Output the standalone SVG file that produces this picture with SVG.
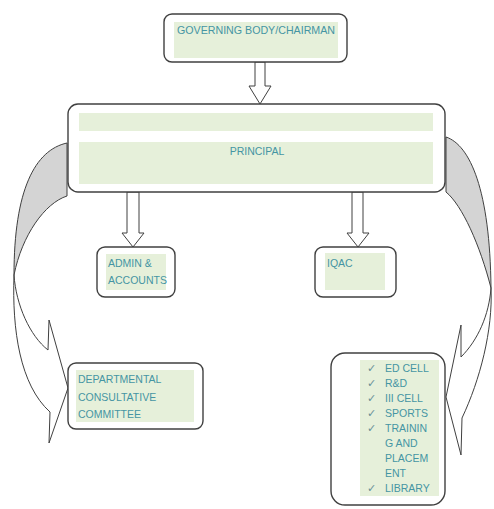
<svg xmlns="http://www.w3.org/2000/svg" width="494" height="509" viewBox="0 0 494 509">
<style>
.box{fill:#ffffff;stroke:#404040;stroke-width:1.4}
.fill{fill:#e6f0da}
.t{font-family:"Liberation Sans",Arial,sans-serif;font-size:10.5px;fill:#4595a3}
.ck{font-family:"DejaVu Sans",sans-serif;font-size:11px;fill:#6a9099}
.blk{fill:#ffffff;stroke:#404040;stroke-width:1}
.back{fill:#d4d4d4;stroke:#404040;stroke-width:1}
.front{fill:#ffffff;stroke:#404040;stroke-width:1}
</style>
<rect width="494" height="509" fill="#ffffff"/>
<g id="connectors">
  <polygon class="blk" points="255,62 265,62 265,86 271,86 260,104 249,86 255,86"/>
  <polygon class="blk" points="127,192 139,192 139,233 144,233 133,247 122,233 127,233"/>
  <polygon class="blk" points="352,192 363,192 363,233 369,233 358,247 347,233 352,233"/>
  <path class="back" d="M67,143 C35,150 14,190 14,275 C22,235 45,203 67,196 Z"/>
  <path class="front" d="M14,275 C12,330 20,385 50,412 L49,443 L68,388 L49,320 L48,350 C30,336 16,305 14,275 Z"/>
  <path class="back" d="M446,137 C470,145 490,190 491,288 C480,245 462,205 446,192 Z"/>
  <path class="front" d="M491,288 C493,330 480,380 462,418 L461,455 L446,397 L461,325 L461,357 C478,340 489,315 491,288 Z"/>
</g>
<g id="governing">
  <rect class="box" x="164" y="14" width="183" height="48" rx="8"/>
  <rect class="fill" x="174" y="22" width="164" height="36"/>
  <text class="t" x="177" y="34" textLength="158" lengthAdjust="spacingAndGlyphs">GOVERNING BODY/CHAIRMAN</text>
</g>
<g id="principal">
  <rect class="box" x="68" y="104" width="377" height="88" rx="10"/>
  <rect class="fill" x="79" y="113" width="354" height="18"/>
  <rect class="fill" x="79" y="142" width="354" height="42"/>
  <text class="t" x="257" y="155" text-anchor="middle">PRINCIPAL</text>
</g>
<g id="admin">
  <rect class="box" x="97" y="247" width="78" height="50" rx="8"/>
  <rect class="fill" x="106" y="254" width="60" height="36"/>
  <text class="t" x="108" y="267">ADMIN &amp;</text>
  <text class="t" x="108" y="284">ACCOUNTS</text>
</g>
<g id="iqac">
  <rect class="box" x="315" y="247" width="81" height="50" rx="8"/>
  <rect class="fill" x="325" y="253" width="60" height="37"/>
  <text class="t" x="327" y="267">IQAC</text>
</g>
<g id="dcc">
  <rect class="box" x="68" y="363" width="135" height="66" rx="8"/>
  <rect class="fill" x="76" y="370" width="118" height="52"/>
  <text class="t" x="78" y="383">DEPARTMENTAL</text>
  <text class="t" x="78" y="401">CONSULTATIVE</text>
  <text class="t" x="78" y="418">COMMITTEE</text>
</g>
<g id="cells">
  <rect class="box" x="331" y="353" width="114" height="152" rx="14"/>
  <rect class="fill" x="360" y="360" width="79" height="136"/>
  <text class="ck" x="367" y="372">✓</text>
  <text class="t" x="385" y="372">ED CELL</text>
  <text class="ck" x="367" y="387">✓</text>
  <text class="t" x="385" y="387">R&amp;D</text>
  <text class="ck" x="367" y="402">✓</text>
  <text class="t" x="385" y="402">III CELL</text>
  <text class="ck" x="367" y="417">✓</text>
  <text class="t" x="385" y="417">SPORTS</text>
  <text class="ck" x="367" y="432">✓</text>
  <text class="t" x="385" y="432">TRAININ</text>
  <text class="t" x="385" y="447">G AND</text>
  <text class="t" x="385" y="462">PLACEM</text>
  <text class="t" x="385" y="477">ENT</text>
  <text class="ck" x="367" y="492">✓</text>
  <text class="t" x="385" y="492">LIBRARY</text>
</g>
</svg>
